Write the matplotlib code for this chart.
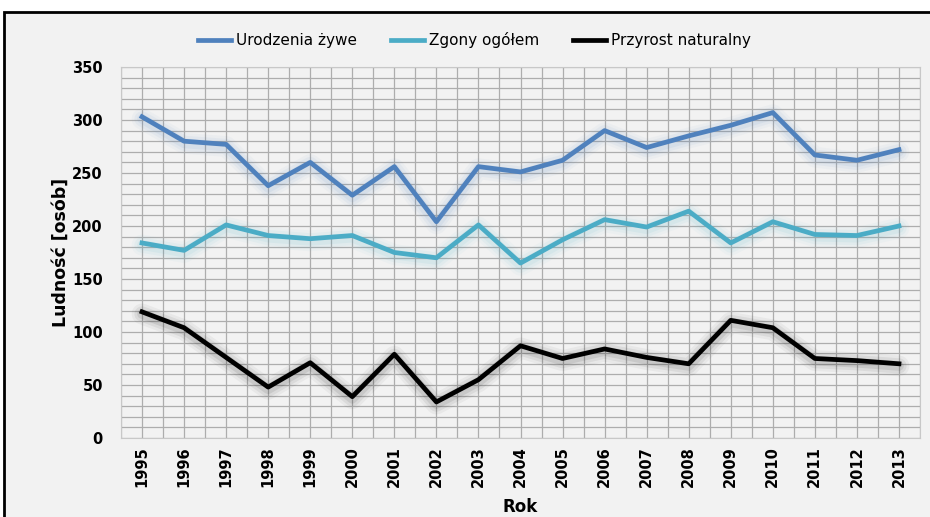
import matplotlib
matplotlib.use("Agg")
import matplotlib.pyplot as plt
from matplotlib.patches import Rectangle
import numpy as np

years = ["1995", "1996", "1997", "1998", "1999", "2000", "2001", "2002", "2003", "2004",
         "2005", "2006", "2007", "2008", "2009", "2010", "2011", "2012", "2013"]
urodzenia = [303, 280, 277, 238, 260, 229, 256, 204, 256, 251,
             262, 290, 274, 285, 295, 307, 267, 262, 272]
zgony = [184, 177, 201, 191, 188, 191, 175, 170, 201, 165,
         187, 206, 199, 214, 184, 204, 192, 191, 200]
przyrost = [119, 104, 76, 48, 71, 39, 79, 34, 55, 87,
            75, 84, 76, 70, 111, 104, 75, 73, 70]

bg = "#f2f2f2"
fig = plt.figure(figsize=(9.3, 5.17), dpi=100)
fig.patch.set_facecolor("white")
fig.patches.append(Rectangle((4/930, -0.05), 1.0, (517-12)/517 + 0.05, transform=fig.transFigure,
                             facecolor=bg, edgecolor="black", linewidth=2, zorder=-1))

ax = fig.add_axes([121/930, (517-438)/517, 799/930, 371/517])
ax.set_facecolor(bg)
x = np.arange(len(years))

series = [(urodzenia, "#4f81bd", "Urodzenia żywe"),
          (zgony, "#4bacc6", "Zgony ogółem"),
          (przyrost, "black", "Przyrost naturalny")]
for vals, col, lab in series:
    # soft glow / shadow
    for w, a in [(15, 0.04), (11, 0.06), (7, 0.08)]:
        ax.plot(x, np.array(vals) - 2, color=col, lw=w, alpha=a, solid_capstyle="round",
                solid_joinstyle="round", zorder=2)
    ax.plot(x, vals, color=col, lw=3.4, label=lab, solid_joinstyle="round", zorder=3)

ax.set_xlim(-0.5, len(years) - 0.5)
ax.set_ylim(0, 350)
ax.set_yticks(np.arange(0, 351, 50))
ax.set_yticks(np.arange(0, 351, 10), minor=True)
ax.set_xticks(x)
ax.set_xticks(np.arange(-0.5, len(years), 0.5), minor=True)
ax.set_xticklabels(years, rotation=90, fontweight="bold", fontsize=10.5)
for lbl in ax.get_yticklabels():
    lbl.set_fontweight("bold")
    lbl.set_fontsize(10.5)
ax.tick_params(axis="both", which="both", length=0)
ax.tick_params(axis="y", pad=13)
ax.tick_params(axis="x", pad=6)
ax.grid(True, which="both", color="#adadad", linewidth=0.9)
ax.set_axisbelow(True)
for s in ax.spines.values():
    s.set_color("#c8c8c8")
    s.set_linewidth(0.8)

ax.set_xlabel("Rok", fontweight="bold", fontsize=12, labelpad=8)
ax.set_ylabel("Ludność [osób]", fontweight="bold", fontsize=12.5, labelpad=2)

leg = fig.legend(loc="center", bbox_to_anchor=(0.51, (517-40)/517), ncol=3, frameon=False,
                 fontsize=11, handlelength=2.2, columnspacing=2.2, handletextpad=0.3)
for h in leg.get_lines():
    h.set_linewidth(3.4)

fig.savefig("out.png", dpi=100, facecolor=fig.get_facecolor())
